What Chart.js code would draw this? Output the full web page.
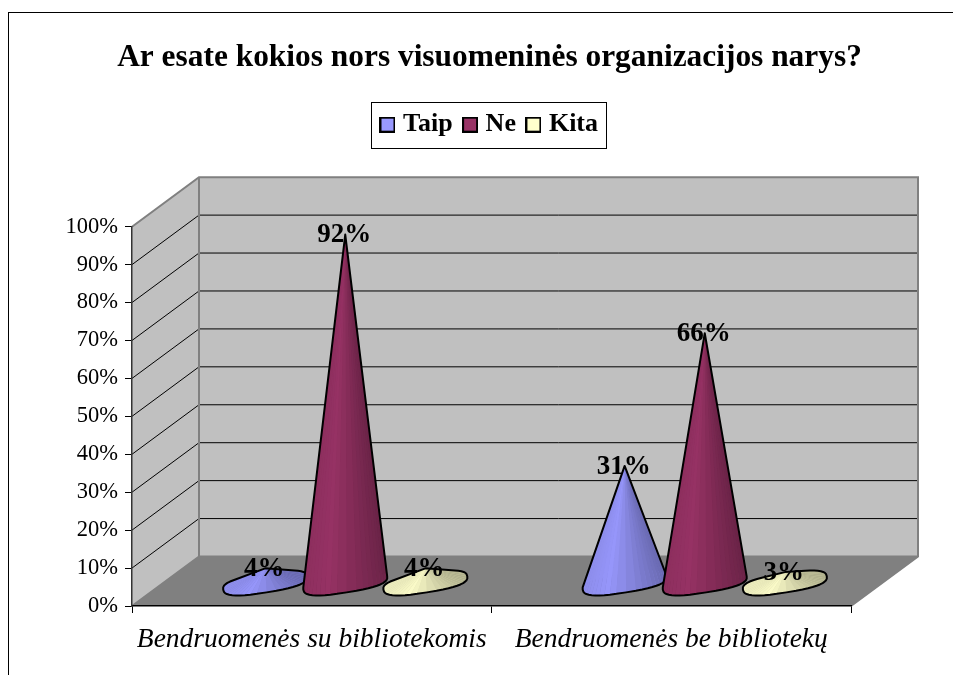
<!DOCTYPE html>
<html><head><meta charset="utf-8">
<style>html,body{margin:0;padding:0;background:#fff}canvas{display:block}</style>
<script src="https://cdn.jsdelivr.net/npm/chart.js@4/dist/chart.umd.min.js"></script>
</head><body><canvas id="c" width="953" height="675"></canvas>
<script>
const title = 'Ar esate kokios nors visuomeninės organizacijos narys?';
const categories = ['Bendruomenės su bibliotekomis', 'Bendruomenės be bibliotekų'];
const taip = [4, 31];
const ne = [92, 66];
const kita = [4, 3];
const serif = '"Liberation Serif","Times New Roman",serif';
const DEPTH_X = 67, DEPTH_Y = 49.5;
const seriesRgb = [[153,153,255],[153,51,102],[255,255,204]];

function shade(rgb, k){ return 'rgb(' + rgb.map(v => Math.round(v * k)).join(',') + ')'; }
function hull(pts){
  const p = pts.slice().sort((a,b) => a.x - b.x || a.y - b.y);
  const cr = (o,a,b) => (a.x-o.x)*(b.y-o.y) - (a.y-o.y)*(b.x-o.x);
  const lo = [], up = [];
  for (const q of p){ while (lo.length>1 && cr(lo[lo.length-2],lo[lo.length-1],q) <= 0) lo.pop(); lo.push(q); }
  for (const q of p.slice().reverse()){ while (up.length>1 && cr(up[up.length-2],up[up.length-1],q) <= 0) up.pop(); up.push(q); }
  return lo.slice(0,-1).concat(up.slice(0,-1));
}
function drawCone(ctx, cx, cy, a, apexY, rgb){
  const th = -9 * Math.PI / 180, b = 9.5, n = 44, ring = [];
  const pw = v => Math.sign(v) * Math.pow(Math.abs(v), 0.75);
  for (let i = 0; i < n; i++){
    const t = i / n * 2 * Math.PI, ex = a * pw(Math.cos(t)), ey = b * pw(Math.sin(t));
    ring.push({x: cx + ex*Math.cos(th) - ey*Math.sin(th), y: cy + ex*Math.sin(th) + ey*Math.cos(th), c: ex / a});
  }
  const apex = {x: cx, y: apexY};
  const outline = hull(ring.concat([apex]));
  const trace = () => { ctx.beginPath(); outline.forEach((p,i) => i ? ctx.lineTo(p.x,p.y) : ctx.moveTo(p.x,p.y)); ctx.closePath(); };
  ctx.save();
  trace();
  ctx.fillStyle = shade(rgb, 0.85);
  ctx.fill();
  ctx.save(); ctx.clip();
  const order = ring.map((p,i) => ({p, q: ring[(i+1)%n], m: (p.y + ring[(i+1)%n].y)/2})).sort((u,v) => u.m - v.m);
  for (const f of order){
    const u = (f.p.c + f.q.c) / 2;           // -1 left .. 1 right
    const k = u < -0.55 ? 0.97 + (u + 0.55) * 0.1 : 1 - (u + 0.55) * 0.2;
    ctx.beginPath(); ctx.moveTo(apex.x, apex.y); ctx.lineTo(f.p.x, f.p.y); ctx.lineTo(f.q.x, f.q.y); ctx.closePath();
    ctx.fillStyle = shade(rgb, k); ctx.fill();
  }
  ctx.restore();
  trace();
  ctx.lineWidth = 2; ctx.strokeStyle = '#000'; ctx.lineJoin = 'round'; ctx.stroke();
  ctx.restore();
}
function swatch(rgb){
  const s = document.createElement('canvas'); s.width = 16; s.height = 16;
  const g = s.getContext('2d');
  g.fillStyle = shade(rgb, 1); g.fillRect(0,0,16,16);
  g.strokeStyle = '#000'; g.lineWidth = 2; g.strokeRect(1,1,14,14);
  return s;
}
const swatches = seriesRgb.map(swatch);
const stage = {
  id: 'stage',
  afterLayout(chart){
    // the title is wider than the plot and sits almost centred on it
    chart.titleBlock.left = chart.chartArea.left - 15;
    chart.titleBlock.right = chart.chartArea.right + 11;
  },
  beforeDraw(chart){
    const {ctx, chartArea: A, scales:{y}} = chart;
    ctx.save();
    ctx.fillStyle = '#fff'; ctx.fillRect(0,0,chart.width,chart.height);
    ctx.fillStyle = '#000'; ctx.fillRect(8,12,chart.width-8,1); ctx.fillRect(8,12,1,chart.height-12);
    const L = A.left, R = A.right, T = y.getPixelForValue(100), B = y.getPixelForValue(0);
    const bL = L + DEPTH_X, bR = R + DEPTH_X;
    ctx.fillStyle = '#c0c0c0';
    ctx.beginPath(); ctx.moveTo(bL,T-DEPTH_Y); ctx.lineTo(bR,T-DEPTH_Y); ctx.lineTo(bR,B-DEPTH_Y); ctx.lineTo(bL,B-DEPTH_Y); ctx.closePath(); ctx.fill();
    ctx.beginPath(); ctx.moveTo(L,T); ctx.lineTo(bL,T-DEPTH_Y); ctx.lineTo(bL,B-DEPTH_Y); ctx.lineTo(L,B); ctx.closePath(); ctx.fill();
    ctx.fillStyle = '#808080';
    ctx.beginPath(); ctx.moveTo(L,B); ctx.lineTo(R,B); ctx.lineTo(bR,B-DEPTH_Y); ctx.lineTo(bL,B-DEPTH_Y); ctx.closePath(); ctx.fill();
    ctx.lineWidth = 1; ctx.strokeStyle = '#000';
    for (const t of y.ticks){
      if (t.value === 0 || t.value === 100) continue;
      const p = y.getPixelForValue(t.value);
      ctx.beginPath(); ctx.moveTo(L,p); ctx.lineTo(bL,p-DEPTH_Y); ctx.lineTo(bR,p-DEPTH_Y); ctx.stroke();
    }
    ctx.strokeStyle = '#808080'; ctx.lineWidth = 2;
    ctx.beginPath(); ctx.moveTo(L,T); ctx.lineTo(bL,T-DEPTH_Y); ctx.lineTo(bR,T-DEPTH_Y); ctx.lineTo(bR,B-DEPTH_Y); ctx.lineTo(R,B); ctx.stroke();
    ctx.beginPath(); ctx.moveTo(bL,T-DEPTH_Y); ctx.lineTo(bL,B-DEPTH_Y); ctx.lineTo(L,B); ctx.moveTo(bL,B-DEPTH_Y); ctx.lineTo(bR,B-DEPTH_Y); ctx.stroke();
    ctx.restore();
  },
  beforeDatasetDraw(){ return false; },
  afterDatasetsDraw(chart){
    const {ctx} = chart;
    chart.data.datasets.forEach((ds,i) => {
      chart.getDatasetMeta(i).data.forEach(bar => {
        const d = Math.abs(bar.base - bar.y);
        drawCone(ctx, bar.x + DEPTH_X/2, bar.base - 22.5, bar.width * 0.53, bar.base - 22.5 - d, seriesRgb[i]);
      });
    });
    ctx.save();
    ctx.fillStyle = '#000'; ctx.font = 'bold 27px ' + serif; ctx.textAlign = 'center'; ctx.textBaseline = 'middle';
    chart.data.datasets.forEach((ds,i) => {
      chart.getDatasetMeta(i).data.forEach((bar,j) => {
        ctx.fillText(ds.data[j] + '%', bar.x + DEPTH_X/2 - 1, bar.y - 22.5 + 1);
      });
    });
    const h = chart.legend.legendHitBoxes, first = h[0], last = h[h.length-1];
    const cy = first.top + first.height/2;
    const left = Math.round(first.left - 14), right = Math.round(last.left + last.width + 8);
    ctx.strokeStyle = '#000'; ctx.lineWidth = 1;
    ctx.strokeRect(left+0.5, Math.round(cy-23)+0.5, right-left, 46);
    ctx.restore();
  }
};
new Chart(document.getElementById('c'), {
  type: 'bar',
  data: { labels: categories, datasets: [
    {label:'Taip', data: taip, backgroundColor:'#9999ff', borderColor:'#000', borderWidth:1.5},
    {label:'Ne', data: ne, backgroundColor:'#993366', borderColor:'#000', borderWidth:1.5},
    {label:'Kita', data: kita, backgroundColor:'#ffffcc', borderColor:'#000', borderWidth:1.5}
  ]},
  plugins: [stage],
  options: {
    responsive:false, animation:false, devicePixelRatio:1,
    layout:{padding:{left:0,right:102,top:0,bottom:0}},
    categoryPercentage:0.6685, barPercentage:1,
    plugins:{
      title:{display:true,text:title,color:'#000',font:{family:serif,size:31.4,weight:'bold',lineHeight:1.2},padding:{top:39,bottom:20}},
      subtitle:{display:true,text:' ',weight:500,font:{size:1,lineHeight:1},padding:{top:0,bottom:78}},
      legend:{position:'top',fullSize:false,onClick:null,labels:{color:'#000',usePointStyle:true,pointStyleWidth:5,boxHeight:16,padding:15,
        font:{family:serif,size:26,weight:'bold'},
        generateLabels(chart){
          const items = Chart.defaults.plugins.legend.labels.generateLabels(chart);
          items.forEach((it,i) => { it.pointStyle = swatches[i]; });
          return items;
        }}},
      tooltip:{enabled:false}
    },
    scales:{
      x:{ grid:{drawOnChartArea:false,color:'#000',tickLength:7,offset:true},
          border:{color:'#000',width:1.5},
          ticks:{color:'#000',padding:10,maxRotation:0,autoSkip:false,font:{family:serif,size:27.5,style:'italic'}},
          afterFit(s){ s.height = 675-606; } },
      y:{ min:0,max:100,
          grid:{drawOnChartArea:false,color:'#000',tickLength:7},
          border:{color:'#333',width:1.5},
          ticks:{color:'#000',stepSize:10,padding:7,callback:v=>v+'%',font:{family:serif,size:22.5}},
          afterFit(s){ s.width = 132; } }
    }
  }
});
</script></body></html>
